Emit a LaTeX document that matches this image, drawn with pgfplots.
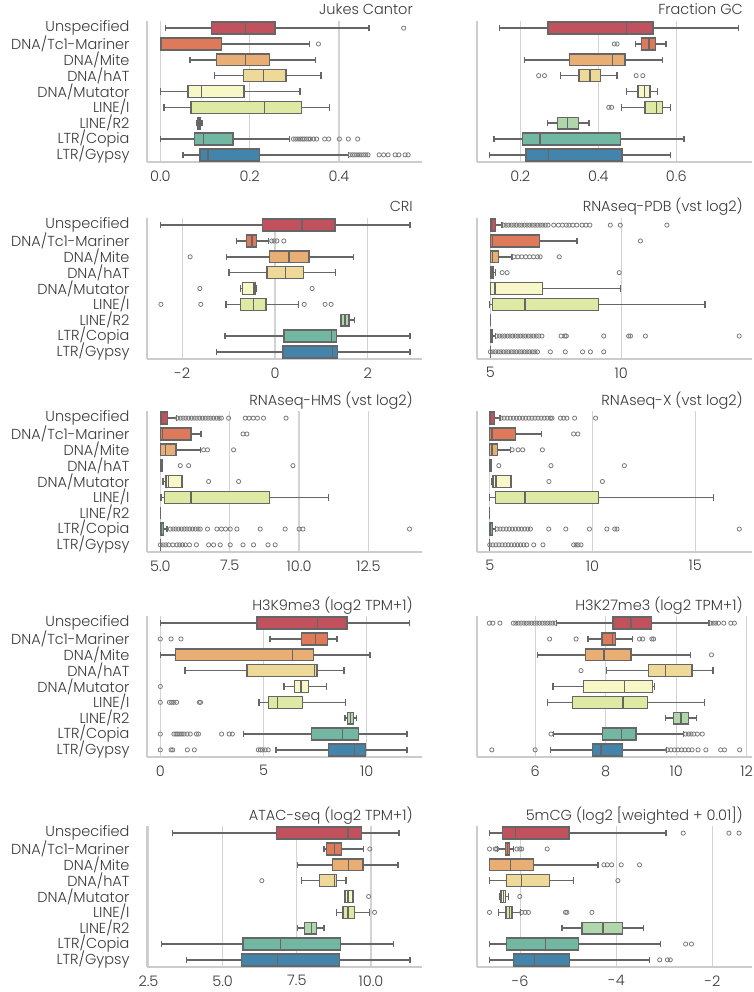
\documentclass[border=0pt]{standalone}
\usepackage{fontspec}
\setmainfont{Poppins}[UprightFont={* Light}]
\usepackage{pgfplots}
\pgfplotsset{compat=1.18}
\usepgfplotslibrary{statistics}

\definecolor{c0}{HTML}{C2515E}
\definecolor{c1}{HTML}{DE7959}
\definecolor{c2}{HTML}{E9AE74}
\definecolor{c3}{HTML}{EFD999}
\definecolor{c4}{HTML}{F7F7C7}
\definecolor{c5}{HTML}{DEE9A3}
\definecolor{c6}{HTML}{B0D6AB}
\definecolor{c7}{HTML}{71B7A1}
\definecolor{c8}{HTML}{4384AC}
\definecolor{edge}{HTML}{666666}
\definecolor{spine}{HTML}{CCCCCC}
\definecolor{gridc}{HTML}{D3D3D3}
\definecolor{txt}{HTML}{3A3A3A}
\definecolor{outlc}{HTML}{7A7A7A}

\newcommand{\bx}[7]{\addplot[boxplot prepared={draw position=#1, lower whisker=#2, lower quartile=#3, median=#4, upper quartile=#5, upper whisker=#6}, draw=edge, fill=#7, line width=1.4pt] coordinates {};}

\pgfplotsset{
 panel/.style={
  scale only axis, width=275pt, height=141pt, anchor=north west,
  axis x line*=bottom, axis y line*=left,
  axis line style={draw=spine, line width=1.8pt, -},
  ymin=-0.45, ymax=8.45, ytick={0,...,8},
  major tick length=0pt,
  xmajorgrids, grid style={draw=gridc, line width=1.3pt},
  boxplot/draw direction=x, boxplot/box extend=0.75, boxplot/whisker extend=0.4,
  title style={at={(1,1)}, anchor=base east, xshift=-9pt, yshift=0pt, font=\fontsize{14.5}{17}\selectfont, text=txt, inner sep=0pt},
  tick label style={font=\fontsize{14.5}{17}\selectfont, text=txt},
  xticklabel style={yshift=-5pt},
  yticklabel style={xshift=-14pt},
  yticklabels={},
 },
 leftpanel/.style={panel, yticklabels={LTR/Gypsy,LTR/Copia,LINE/R2,LINE/I,DNA/Mutator,DNA/hAT,DNA/Mite,DNA/Tc1-Mariner,Unspecified}},
 outl/.style={only marks, mark=o, mark size=2.1pt, mark options={draw=outlc, line width=0.8pt}},
}

\begin{document}
\begin{tikzpicture}
\path[use as bounding box] (0,0) rectangle (754pt,-992pt);

% Row 1 left: Jukes Cantor
\begin{axis}[leftpanel, at={(147pt,-21pt)}, title={Jukes Cantor}, xmin=-0.03, xmax=0.586, xtick={0,0.2,0.4}, xticklabels={0.0,0.2,0.4}]
\bx{8}{0.012}{0.115}{0.19}{0.257}{0.467}{c0}
\bx{7}{0.0}{0.0}{0.003}{0.137}{0.334}{c1}
\bx{6}{0.066}{0.126}{0.191}{0.244}{0.347}{c2}
\bx{5}{0.121}{0.186}{0.231}{0.281}{0.36}{c3}
\bx{4}{0.0}{0.062}{0.092}{0.187}{0.313}{c4}
\bx{3}{0.008}{0.069}{0.233}{0.316}{0.379}{c5}
\bx{2}{0.081}{0.084}{0.087}{0.09}{0.093}{c6}
\bx{1}{0.0}{0.077}{0.096}{0.163}{0.289}{c7}
\bx{0}{0.051}{0.089}{0.107}{0.222}{0.421}{c8}
\addplot[outl] coordinates {(0.545,8) (0.354,7)
(0.298,1) (0.303,1) (0.308,1) (0.313,1) (0.318,1) (0.322,1) (0.327,1) (0.332,1) (0.336,1) (0.343,1) (0.350,1) (0.368,1) (0.377,1) (0.401,1) (0.421,1) (0.442,1)
(0.425,0) (0.43,0) (0.435,0) (0.44,0) (0.445,0) (0.45,0) (0.455,0) (0.46,0) (0.465,0) (0.49,0) (0.5,0) (0.51,0) (0.526,0) (0.534,0) (0.548,0) (0.555,0)};
\end{axis}

% Row 1 right: Fraction GC
\begin{axis}[panel, at={(477pt,-21pt)}, title={Fraction GC}, xmin=0.089, xmax=0.794, xtick={0.2,0.4,0.6}, xticklabels={0.2,0.4,0.6}]
\bx{8}{0.146}{0.271}{0.472}{0.54}{0.76}{c0}
\bx{7}{0.496}{0.51}{0.53}{0.546}{0.573}{c1}
\bx{6}{0.21}{0.326}{0.436}{0.468}{0.565}{c2}
\bx{5}{0.303}{0.35}{0.379}{0.406}{0.448}{c3}
\bx{4}{0.472}{0.502}{0.519}{0.532}{0.551}{c4}
\bx{3}{0.459}{0.52}{0.549}{0.564}{0.585}{c5}
\bx{2}{0.269}{0.296}{0.321}{0.349}{0.376}{c6}
\bx{1}{0.133}{0.206}{0.25}{0.457}{0.62}{c7}
\bx{0}{0.121}{0.215}{0.272}{0.461}{0.585}{c8}
\addplot[outl] coordinates {(0.441,7) (0.448,7) (0.247,5) (0.262,5) (0.497,5) (0.514,5) (0.427,3) (0.434,3)};
\end{axis}

% Row 2 left: CRI
\begin{axis}[leftpanel, at={(147pt,-218pt)}, title={CRI}, xmin=-2.76, xmax=3.17, xtick={-2,0,2}, xticklabels={-2,0,2}]
\bx{8}{-2.47}{-0.27}{0.58}{1.29}{2.91}{c0}
\bx{7}{-0.83}{-0.61}{-0.5}{-0.4}{-0.14}{c1}
\bx{6}{-1.04}{-0.12}{0.30}{0.73}{1.69}{c2}
\bx{5}{-0.99}{-0.17}{0.23}{0.61}{1.31}{c3}
\bx{4}{-0.74}{-0.70}{-0.45}{-0.42}{-0.41}{c4}
\bx{3}{-1.06}{-0.74}{-0.47}{-0.19}{0.51}{c5}
\bx{2}{1.42}{1.42}{1.51}{1.60}{1.71}{c6}
\bx{1}{-1.08}{0.19}{1.22}{1.32}{2.91}{c7}
\bx{0}{-1.26}{0.17}{1.24}{1.35}{2.91}{c8}
\addplot[outl] coordinates {(-0.07,7) (-0.02,7) (0.04,7) (0.19,7) (-1.83,6) (-1.62,4) (0.80,4) (-2.46,3) (-1.6,3) (0.63,3) (1.08,3) (1.21,3)};
\end{axis}

% Row 2 right: RNAseq-PDB
\begin{axis}[panel, at={(477pt,-218pt)}, title={RNAseq-PDB (vst log2)}, xmin=4.49, xmax=14.99, xtick={5,10}, xticklabels={5,10}]
\bx{8}{5.0}{5.0}{5.03}{5.19}{5.45}{c0}
\bx{7}{5.0}{5.0}{5.09}{6.88}{8.31}{c1}
\bx{6}{5.0}{5.0}{5.08}{5.32}{5.83}{c2}
\bx{5}{5.0}{5.0}{5.02}{5.1}{5.19}{c3}
\bx{4}{5.0}{5.0}{5.18}{6.98}{9.96}{c4}
\bx{3}{4.97}{5.08}{6.32}{9.13}{13.2}{c5}
\bx{2}{5.0}{5.0}{5.0}{5.0}{5.0}{c6}
\bx{1}{5.0}{5.0}{5.02}{5.08}{5.19}{c7}
\bx{0}{5.0}{5.0}{5.0}{5.0}{5.0}{c8}
\addplot[outl] coordinates {(5.5,8) (5.6,8) (5.7,8) (5.8,8) (5.9,8) (6.0,8) (6.1,8) (6.2,8) (6.3,8) (6.4,8) (6.5,8) (6.6,8) (6.7,8) (6.8,8) (6.9,8) (7.0,8) (7.1,8) (7.2,8) (7.42,8) (7.6,8) (7.75,8) (7.9,8) (8.0,8) (8.15,8) (8.3,8) (8.5,8) (8.65,8) (8.8,8) (9.58,8) (9.96,8) (11.74,8)
(10.73,7)
(5.9,6) (6.05,6) (6.2,6) (6.35,6) (6.5,6) (6.65,6) (6.8,6) (6.9,6) (7.63,6)
(5.45,5) (5.64,5) (9.92,5)
(5.25,1) (5.35,1) (5.45,1) (5.55,1) (5.65,1) (5.75,1) (5.85,1) (5.95,1) (6.05,1) (6.15,1) (6.25,1) (6.35,1) (6.45,1) (6.55,1) (6.65,1) (6.75,1) (6.85,1) (6.97,1) (7.7,1) (7.85,1) (7.9,1) (9.33,1) (10.28,1) (10.35,1) (10.92,1) (14.5,1)
(5.0,0) (5.1,0) (5.2,0) (5.3,0) (5.4,0) (5.5,0) (5.6,0) (5.7,0) (5.8,0) (5.9,0) (6.0,0) (6.1,0) (6.2,0) (6.3,0) (6.4,0) (6.5,0) (6.6,0) (6.7,0) (6.8,0) (7.29,0) (7.86,0) (8.52,0) (8.82,0) (9.33,0)};
\end{axis}

% Row 3 left: RNAseq-HMS
\begin{axis}[leftpanel, at={(147pt,-411pt)}, title={RNAseq-HMS (vst log2)}, xmin=4.52, xmax=14.43, xtick={5,7.5,10,12.5}, xticklabels={5.0,7.5,10.0,12.5}]
\bx{8}{5.0}{5.0}{5.05}{5.26}{5.58}{c0}
\bx{7}{5.0}{5.0}{5.08}{6.1}{6.46}{c1}
\bx{6}{5.0}{5.0}{5.18}{5.56}{6.44}{c2}
\bx{5}{5.0}{5.0}{5.03}{5.08}{5.08}{c3}
\bx{4}{5.1}{5.2}{5.3}{5.78}{5.78}{c4}
\bx{3}{5.02}{5.16}{6.1}{8.94}{11.06}{c5}
\bx{2}{5.0}{5.0}{5.0}{5.0}{5.0}{c6}
\bx{1}{5.0}{5.0}{5.02}{5.12}{5.24}{c7}
\bx{0}{5.0}{5.0}{5.0}{5.0}{5.0}{c8}
\addplot[outl] coordinates {(5.62,8) (5.72,8) (5.82,8) (5.92,8) (6.02,8) (6.12,8) (6.22,8) (6.32,8) (6.42,8) (6.52,8) (6.62,8) (6.72,8) (6.82,8) (6.92,8) (7.02,8) (7.12,8) (7.2,8) (7.46,8) (8.06,8) (8.2,8) (8.35,8) (8.5,8) (8.72,8) (9.53,8)
(7.98,7) (8.12,7)
(6.56,6) (6.7,6) (7.64,6)
(5.72,5) (6.02,5) (9.78,5)
(6.74,4) (7.82,4)
(5.36,1) (5.46,1) (5.56,1) (5.66,1) (5.76,1) (5.86,1) (5.96,1) (6.06,1) (6.16,1) (6.26,1) (6.36,1) (6.44,1) (6.7,1) (7.04,1) (7.2,1) (7.35,1) (7.52,1) (7.76,1) (8.6,1) (9.5,1) (10.0,1) (10.14,1) (13.98,1)
(5.0,0) (5.1,0) (5.2,0) (5.3,0) (5.45,0) (5.6,0) (5.7,0) (5.8,0) (5.9,0) (6.05,0) (6.3,0) (6.74,0) (6.92,0) (7.16,0) (7.52,0) (7.98,0) (8.36,0) (8.88,0) (9.14,0)};
\end{axis}

% Row 3 right: RNAseq-X
\begin{axis}[panel, at={(477pt,-411pt)}, title={RNAseq-X (vst log2)}, xmin=4.38, xmax=17.76, xtick={5,10,15}, xticklabels={5,10,15}]
\bx{8}{5.0}{5.0}{5.03}{5.23}{5.49}{c0}
\bx{7}{5.0}{5.0}{5.11}{6.25}{7.51}{c1}
\bx{6}{5.0}{5.0}{5.11}{5.39}{6.0}{c2}
\bx{5}{5.0}{5.0}{5.03}{5.06}{5.06}{c3}
\bx{4}{5.08}{5.15}{5.31}{6.04}{6.04}{c4}
\bx{3}{5.0}{5.28}{6.72}{10.28}{15.89}{c5}
\bx{2}{5.0}{5.0}{5.0}{5.0}{5.0}{c6}
\bx{1}{5.0}{5.0}{5.02}{5.13}{5.28}{c7}
\bx{0}{5.0}{5.0}{5.0}{5.0}{5.0}{c8}
\addplot[outl] coordinates {(5.55,8) (5.7,8) (5.85,8) (6.0,8) (6.15,8) (6.3,8) (6.45,8) (6.6,8) (6.75,8) (6.9,8) (7.05,8) (7.2,8) (7.35,8) (7.5,8) (7.65,8) (7.8,8) (7.95,8) (8.03,8) (8.44,8) (8.6,8) (8.75,8) (9.13,8) (10.15,8)
(9.08,7) (9.29,7)
(6.09,6) (6.38,6) (6.6,6) (7.56,6)
(5.44,5) (7.98,5) (11.55,5)
(7.88,4) (10.48,4)
(5.36,1) (5.5,1) (5.65,1) (5.8,1) (5.95,1) (6.1,1) (6.25,1) (6.4,1) (6.55,1) (6.7,1) (6.85,1) (6.98,1) (7.87,1) (8.7,1) (9.85,1) (10.7,1) (11.08,1) (11.19,1) (17.14,1)
(5.0,0) (5.15,0) (5.3,0) (5.45,0) (5.6,0) (5.75,0) (5.9,0) (6.05,0) (6.2,0) (6.35,0) (6.5,0) (6.65,0) (6.8,0) (7.14,0) (7.59,0) (9.08,0) (9.2,0) (9.3,0) (9.44,0)};
\end{axis}

% Row 4 left: H3K9me3
\begin{axis}[leftpanel, at={(147pt,-616pt)}, title={H3K9me3 (log2 TPM+1)}, xmin=-0.645, xmax=12.68, xtick={0,5,10}, xticklabels={0,5,10}]
\bx{8}{0.0}{4.68}{7.61}{9.05}{12.08}{c0}
\bx{7}{5.32}{6.83}{7.51}{8.11}{8.56}{c1}
\bx{6}{0.0}{0.74}{6.41}{7.42}{10.16}{c2}
\bx{5}{1.2}{4.2}{7.48}{7.59}{8.9}{c3}
\bx{4}{6.0}{6.51}{6.82}{7.17}{8.06}{c4}
\bx{3}{4.78}{5.25}{5.67}{6.88}{8.98}{c5}
\bx{2}{8.95}{9.08}{9.22}{9.35}{9.52}{c6}
\bx{1}{4.02}{7.33}{8.82}{9.6}{11.95}{c7}
\bx{0}{5.61}{8.14}{9.4}{9.95}{11.95}{c8}
\addplot[outl] coordinates {(0,7) (0.52,7) (1.0,7) (0,4)
(0,3) (0.44,3) (0.55,3) (0.66,3) (0.79,3) (1.89,3) (1.95,3)
(0,1) (0.66,1) (0.76,1) (0.85,1) (0.95,1) (1.05,1) (1.15,1) (1.3,1) (1.45,1) (1.75,1) (1.85,1) (2.97,1) (3.34,1) (3.49,1)
(0,0) (0.52,0) (0.6,0) (1.31,0) (1.65,0) (4.75,0) (4.85,0) (4.95,0) (5.08,0) (5.23,0)};
\end{axis}

% Row 4 right: H3K27me3
\begin{axis}[panel, at={(477pt,-616pt)}, title={H3K27me3 (log2 TPM+1)}, xmin=4.35, xmax=12.15, xtick={6,8,10,12}, xticklabels={6,8,10,12}]
\bx{8}{6.6}{8.21}{8.72}{9.3}{10.93}{c0}
\bx{7}{7.5}{7.89}{8.19}{8.28}{8.76}{c1}
\bx{6}{6.06}{7.43}{7.95}{8.72}{10.41}{c2}
\bx{5}{8.02}{9.21}{9.69}{10.45}{11.04}{c3}
\bx{4}{6.5}{7.37}{8.53}{9.32}{9.38}{c4}
\bx{3}{6.35}{7.06}{8.49}{9.18}{10.8}{c5}
\bx{2}{9.7}{9.93}{10.14}{10.35}{10.58}{c6}
\bx{1}{6.52}{7.91}{8.45}{8.86}{10.2}{c7}
\bx{0}{6.43}{7.63}{7.87}{8.48}{9.73}{c8}
\addplot[outl] coordinates {(4.7,8) (4.8,8) (5.0,8) (5.38,8) (5.45,8) (5.52,8) (5.6,8) (5.68,8) (5.75,8) (5.82,8) (5.9,8) (5.97,8) (6.05,8) (6.12,8) (6.2,8) (6.28,8) (6.35,8) (6.42,8) (6.5,8) (6.57,8) (10.98,8) (11.05,8) (11.12,8) (11.2,8) (11.35,8) (11.55,8) (11.65,8)
(6.41,7) (7.16,7) (8.96,7) (9.05,7) (9.31,7) (9.36,7)
(11.0,6) (7.3,5)
(6.45,1) (10.27,1) (10.35,1) (10.42,1) (10.5,1) (10.6,1) (10.74,1)
(4.77,0) (6.0,0) (9.75,0) (9.85,0) (9.95,0) (10.05,0) (10.15,0) (10.25,0) (10.35,0) (10.45,0) (10.62,0) (10.84,0) (11.26,0) (11.37,0) (11.8,0)};
\end{axis}

% Row 5 left: ATAC-seq
\begin{axis}[leftpanel, at={(147pt,-826pt)}, title={ATAC-seq (log2 TPM+1)}, xmin=2.45, xmax=11.72, xtick={2.5,5,7.5,10}, xticklabels={2.5,5.0,7.5,10.0}]
\bx{8}{3.3}{6.81}{9.23}{9.68}{10.94}{c0}
\bx{7}{8.41}{8.5}{8.77}{9.0}{9.75}{c1}
\bx{6}{7.52}{8.7}{9.25}{9.73}{10.91}{c2}
\bx{5}{7.66}{8.26}{8.77}{8.84}{9.16}{c3}
\bx{4}{9.1}{9.12}{9.22}{9.4}{9.4}{c4}
\bx{3}{8.84}{9.05}{9.23}{9.45}{9.96}{c5}
\bx{2}{7.52}{7.75}{7.99}{8.17}{8.41}{c6}
\bx{1}{2.93}{5.68}{6.94}{8.97}{10.75}{c7}
\bx{0}{3.79}{5.64}{6.85}{8.94}{11.31}{c8}
\addplot[outl] coordinates {(9.96,7) (6.32,5) (9.92,4) (10.12,3)};
\end{axis}

% Row 5 right: 5mCG
\begin{axis}[panel, at={(477pt,-826pt)}, title={5mCG (log2 [weighted + 0.01])}, xmin=-6.9, xmax=-1.18, xtick={-6,-4,-2}, xticklabels={-6,-4,-2}]
\bx{8}{-6.64}{-6.37}{-6.1}{-4.99}{-2.97}{c0}
\bx{7}{-6.47}{-6.31}{-6.26}{-6.22}{-6.14}{c1}
\bx{6}{-6.64}{-6.64}{-6.2}{-5.72}{-4.38}{c2}
\bx{5}{-6.64}{-6.29}{-5.98}{-5.39}{-4.89}{c3}
\bx{4}{-6.43}{-6.4}{-6.35}{-6.31}{-6.24}{c4}
\bx{3}{-6.45}{-6.3}{-6.23}{-6.17}{-6.0}{c5}
\bx{2}{-5.13}{-4.72}{-4.28}{-3.87}{-3.44}{c6}
\bx{1}{-6.64}{-6.29}{-5.48}{-4.79}{-3.08}{c7}
\bx{0}{-6.64}{-6.14}{-5.71}{-4.97}{-3.31}{c8}
\addplot[outl] coordinates {(-2.61,8) (-1.66,8) (-1.45,8)
(-6.64,7) (-6.52,7) (-6.49,7) (-6.07,7) (-6.01,7) (-5.97,7) (-5.44,7)
(-4.26,6) (-4.19,6) (-4.1,6) (-3.9,6) (-3.52,6)
(-3.97,5) (-6.01,4)
(-6.64,3) (-5.97,3) (-5.9,3) (-5.83,3) (-5.06,3) (-5.03,3) (-4.51,3)
(-2.56,1) (-2.44,1)
(-3.1,0) (-2.94,0) (-2.88,0)};
\end{axis}
\end{tikzpicture}
\end{document}
